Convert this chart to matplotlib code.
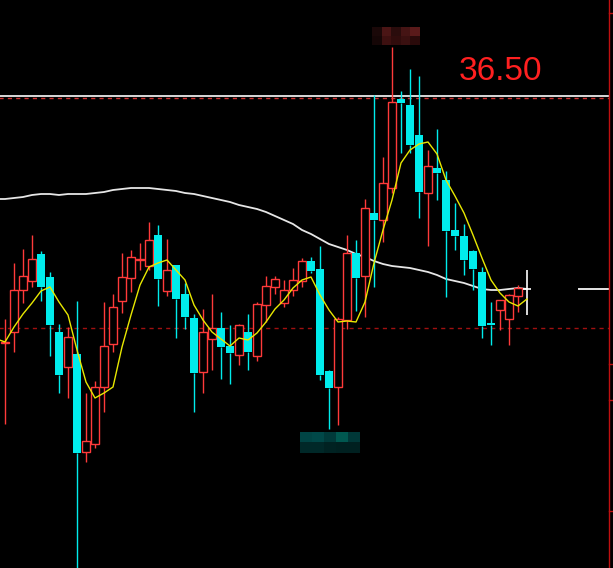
import matplotlib
matplotlib.use("Agg")
import matplotlib.pyplot as plt
import numpy as np

# daily OHLC (price scale anchored on the 36.50 line)
opens = [34.03, 34.14, 34.56, 34.65, 34.92, 34.69, 34.14, 33.79, 33.92, 32.94,
         33.02, 33.59, 34.02, 34.45, 34.68, 34.86, 34.80, 35.11, 34.55, 34.81,
         34.52, 34.28, 33.74, 34.07, 34.18, 34.00, 33.91, 34.14, 33.90, 34.41,
         34.59, 34.43, 34.56, 34.65, 34.85, 34.77, 33.75, 33.59, 34.26, 34.93,
         34.70, 35.33, 35.26, 35.58, 36.47, 36.41, 36.11, 35.53, 35.78, 35.66,
         35.16, 35.10, 34.95, 34.74, 34.23, 34.36, 34.27, 34.50, 34.57]
highs = [34.27, 34.83, 34.97, 35.11, 34.95, 34.74, 34.22, 34.19, 34.45, 33.53,
         33.65, 34.44, 34.52, 34.93, 34.96, 35.03, 35.24, 35.21, 35.07, 34.81,
         34.63, 34.32, 34.37, 34.52, 34.34, 34.21, 34.22, 34.32, 34.44, 34.70,
         34.70, 34.66, 34.78, 34.88, 34.89, 35.00, 33.76, 34.29, 35.11, 35.06,
         35.47, 36.51, 35.89, 36.99, 36.55, 36.77, 36.70, 35.96, 36.17, 35.75,
         35.43, 35.22, 34.96, 34.79, 34.44, 34.46, 34.52, 34.61, 34.76]
lows = [33.22, 33.94, 34.43, 34.59, 34.45, 33.90, 33.53, 33.48, 31.76, 32.84,
        32.98, 33.34, 33.94, 34.33, 34.54, 34.76, 34.76, 34.40, 34.50, 34.08,
        34.17, 33.34, 33.53, 33.76, 33.67, 33.62, 33.81, 33.76, 33.85, 34.24,
        34.52, 34.39, 34.50, 34.59, 34.73, 33.66, 33.17, 33.21, 34.17, 34.35,
        34.29, 34.59, 35.04, 35.53, 35.93, 35.93, 35.28, 35.00, 35.46, 34.49,
        34.96, 34.71, 34.56, 34.08, 34.01, 34.16, 34.01, 34.34, 34.31]
closes = [34.04, 34.56, 34.70, 34.87, 34.59, 34.21, 33.71, 34.09, 32.93, 33.05,
          33.59, 34.00, 34.39, 34.69, 34.89, 34.87, 35.06, 34.67, 34.76, 34.47,
          34.29, 33.73, 34.14, 34.18, 33.99, 33.93, 34.21, 33.94, 34.42, 34.60,
          34.67, 34.56, 34.66, 34.85, 34.75, 33.71, 33.58, 34.27, 34.93, 34.68,
          35.38, 35.26, 35.63, 36.44, 36.43, 36.01, 35.54, 35.80, 35.73, 35.15,
          35.10, 34.86, 34.77, 34.20, 34.21, 34.46, 34.51, 34.58, 34.57]

# short moving average (yellow) and long moving average (white)
ma_short = [34.04, 34.19, 34.32, 34.43, 34.55, 34.59, 34.44, 34.31, 33.96, 33.64,
            33.48, 33.53, 33.59, 33.99, 34.31, 34.61, 34.79, 34.83, 34.86, 34.76,
            34.66, 34.41, 34.26, 34.14, 34.07, 34.00, 34.08, 34.06, 34.13, 34.24,
            34.37, 34.46, 34.58, 34.66, 34.69, 34.51, 34.36, 34.24, 34.25, 34.24,
            34.44, 34.83, 35.16, 35.46, 35.83, 35.96, 36.02, 36.04, 35.92, 35.66,
            35.50, 35.33, 35.11, 34.88, 34.66, 34.53, 34.44, 34.40, 34.47]
ma_long = [35.47, 35.48, 35.49, 35.51, 35.52, 35.52, 35.51, 35.52, 35.52, 35.52,
           35.53, 35.54, 35.56, 35.57, 35.58, 35.58, 35.58, 35.57, 35.56, 35.55,
           35.53, 35.52, 35.50, 35.48, 35.46, 35.44, 35.41, 35.39, 35.37, 35.34,
           35.30, 35.26, 35.22, 35.16, 35.12, 35.07, 35.02, 34.99, 34.96, 34.92,
           34.89, 34.85, 34.82, 34.80, 34.79, 34.78, 34.76, 34.74, 34.71, 34.67,
           34.65, 34.63, 34.60, 34.57, 34.56, 34.56, 34.57, 34.58, 34.57]

top_price = 36.50
top_label = "36.50"
ref_price = 34.18     # dashed reference line
last_price = 34.57

RED = "#ff3a3a"
CYAN = "#00ecec"
fig = plt.figure(figsize=(6.13, 5.68), dpi=100, facecolor="black")
ax = fig.add_axes([0, 0, 1, 1])
ax.set_facecolor("black")
ax.set_axis_off()

o, h, l, c = map(np.asarray, (opens, highs, lows, closes))
x = np.arange(len(o))
up = c >= o
last = len(o) - 1
w = 0.78

# wicks (skip the body so hollow red candles stay hollow)
top = np.maximum(o, c)
bot = np.minimum(o, c)
for mask, col in ((up, RED), (~up, CYAN)):
    m = mask.copy(); m[last] = False
    ax.vlines(x[m], top[m], h[m], color=col, lw=1.0, zorder=3)
    ax.vlines(x[m], l[m], bot[m], color=col, lw=1.0, zorder=3)

m = up.copy(); m[last] = False
ax.bar(x[m], (top - bot)[m], w, bottom=bot[m], facecolor="black",
       edgecolor=RED, lw=1.0, zorder=4)
m = ~up; m[last] = False
ax.bar(x[m], np.maximum((top - bot)[m], 0.02), w, bottom=bot[m], color=CYAN,
       lw=0, zorder=4)
# current (last) bar in white
ax.vlines(x[last], l[last], h[last], color="white", lw=1.2, zorder=5)
ax.hlines(c[last], x[last] - 0.45, x[last] + 0.45, color="white", lw=1.2, zorder=5)

ax.plot(np.r_[-0.6, x], np.r_[ma_long[0], ma_long], color="#e6e6e6", lw=1.3, zorder=2)
ax.plot(np.r_[-0.6, x], np.r_[ma_short[0] + 0.02, ma_short], color="#e8e800", lw=1.0, zorder=6)

xr = 67.11  # right border of the price pane
ax.plot([-1, xr], [top_price, top_price], color="#d8d8d8", lw=1.4, zorder=1)
ax.plot([-1, xr], [top_price - 0.015, top_price - 0.015], color="#d03030", lw=1.0,
        ls=(0, (3, 3)), zorder=1)
ax.plot([-1, xr], [ref_price, ref_price], color="#a01010", lw=1.0, ls=(0, (3, 3)), zorder=1)
ax.plot([63.8, 67.0], [last_price, last_price], color="#e6e6e6", lw=1.4)
ax.axvline(xr, color="#c01010", lw=1.0)
for yt in (37.33, 33.82, 33.46, 32.35):
    ax.plot([xr, xr + 0.5], [yt, yt], color="#c01010", lw=1.0)

ax.text(55.0, 36.74, top_label, color="#ff2020", fontsize=24,
        family="Liberation Sans", ha="center", va="center")

# pixelated (masked) high / low labels
mos_hi = np.array([[[26, 8, 8], [74, 21, 21], [42, 12, 12], [69, 20, 20], [90, 26, 26]],
                   [[21, 6, 6], [61, 16, 16], [48, 12, 12], [58, 16, 16], [42, 10, 10]]]) / 255
mos_lo = np.array([[[0, 68, 68], [0, 72, 72], [0, 58, 58], [0, 88, 80], [0, 56, 56]],
                   [[0, 40, 40], [0, 40, 40], [0, 34, 34], [0, 32, 32], [0, 32, 32]]]) / 255
ax.imshow(mos_hi, extent=(40.8, 46.1, 37.01, 37.19), aspect="auto",
          interpolation="nearest", zorder=7)
ax.imshow(mos_lo, extent=(32.8, 39.4, 32.93, 33.14), aspect="auto",
          interpolation="nearest", zorder=7)

ax.set_xlim(-0.556, 67.556)
ax.set_ylim(31.78, 37.46)
fig.savefig("out.png", dpi=100, facecolor="black")
